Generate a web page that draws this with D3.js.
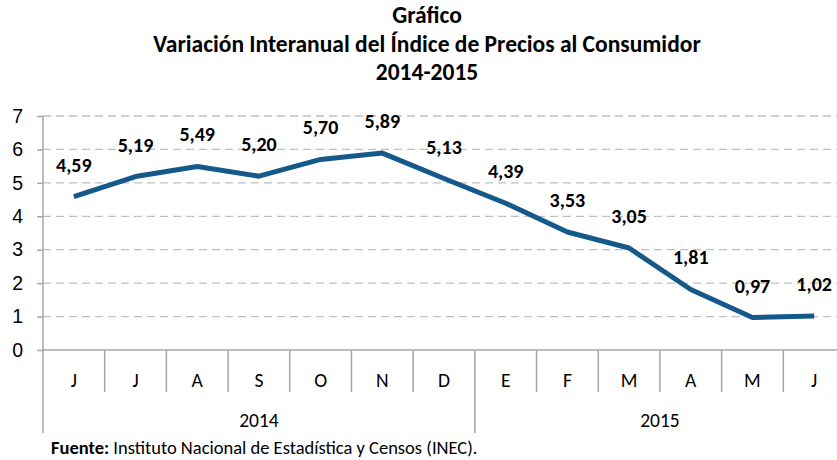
<!DOCTYPE html>
<html>
<head>
<meta charset="utf-8">
<style>
  body { margin: 0; background: #fff; }
  svg { font-family: Carlito, Lato, "Open Sans", sans-serif; }
</style>
</head>
<body>
<div id="chart"></div>
<script src="https://d3js.org/d3.v7.min.js"></script>
<script>
// chart data
const months = ["J", "J", "A", "S", "O", "N", "D", "E", "F", "M", "A", "M", "J"];
const years = ["2014", "2014", "2014", "2014", "2014", "2014", "2014", "2015", "2015", "2015", "2015", "2015", "2015"];
const values = [4.59, 5.19, 5.49, 5.20, 5.70, 5.89, 5.13, 4.39, 3.53, 3.05, 1.81, 0.97, 1.02];
const yTicks = [0, 1, 2, 3, 4, 5, 6, 7];
const titleLines = ["Gráfico", "Variación Interanual del Índice de Precios al Consumidor", "2014-2015"];

const width = 837, height = 460;
const svg = d3.select("#chart").append("svg")
    .attr("width", width)
    .attr("height", height);

const plotLeft = 43, plotRight = 845, plotTop = 116, plotBottom = 350;
const axisColor = "#a6a6a6";

const x = d3.scaleBand().domain(d3.range(months.length)).range([plotLeft, plotRight]);
const y = d3.scaleLinear().domain([0, 7]).range([plotBottom, plotTop]);

// title
svg.append("g").selectAll("text")
    .data(titleLines)
    .join("text")
    .attr("x", 427)
    .attr("y", (d, i) => 23 + i * 28.5)
    .attr("text-anchor", "middle")
    .attr("font-weight", "bold")
    .attr("font-size", 23.5)
    .text(d => d);

// gridlines
svg.append("g").selectAll("line")
    .data(yTicks.filter(d => d > 0))
    .join("line")
    .attr("x1", plotLeft).attr("x2", plotRight)
    .attr("y1", d => y(d)).attr("y2", d => y(d))
    .attr("stroke", "#bfbfbf")
    .attr("stroke-width", 1.3)
    .attr("stroke-dasharray", "8,5");

// y axis
const yAxis = svg.append("g")
    .attr("transform", `translate(${plotLeft},0)`)
    .call(d3.axisLeft(y).tickValues(yTicks).tickSize(6).tickPadding(14).tickFormat(d3.format("d")));
yAxis.select(".domain").remove();
yAxis.selectAll(".tick line").attr("stroke", axisColor).attr("stroke-width", 1.5);
yAxis.selectAll(".tick text").attr("font-size", 19.5).attr("fill", "#000").attr("font-family", "inherit");
svg.append("line")
    .attr("x1", plotLeft).attr("x2", plotLeft)
    .attr("y1", y(7)).attr("y2", 433)
    .attr("stroke", axisColor).attr("stroke-width", 1.5);

// x axis baseline
svg.append("line")
    .attr("x1", plotLeft).attr("x2", plotRight)
    .attr("y1", plotBottom).attr("y2", plotBottom)
    .attr("stroke", axisColor).attr("stroke-width", 1.5);

// category separators
svg.append("g").selectAll("line")
    .data(d3.range(1, months.length))
    .join("line")
    .attr("x1", i => x(i)).attr("x2", i => x(i))
    .attr("y1", plotBottom)
    .attr("y2", i => years[i] !== years[i - 1] ? 433 : 392)
    .attr("stroke", axisColor).attr("stroke-width", 1.5);

// month labels
svg.append("g").selectAll("text")
    .data(months)
    .join("text")
    .attr("x", (d, i) => x(i) + x.bandwidth() / 2)
    .attr("y", 387)
    .attr("text-anchor", "middle")
    .attr("font-size", 19.5)
    .text(d => d);

// year labels
const yearGroups = d3.groups(years.map((yr, i) => ({ yr, i })), d => d.yr);
svg.append("g").selectAll("text")
    .data(yearGroups)
    .join("text")
    .attr("x", d => (x(d[1][0].i) + x(d[1][d[1].length - 1].i) + x.bandwidth()) / 2)
    .attr("y", 427)
    .attr("text-anchor", "middle")
    .attr("font-size", 19.5)
    .text(d => d[0]);

// line
const line = d3.line()
    .x((d, i) => x(i) + x.bandwidth() / 2)
    .y(d => y(d));
svg.append("path")
    .datum(values)
    .attr("d", line)
    .attr("fill", "none")
    .attr("stroke", "#15588a")
    .attr("stroke-width", 5)
    .attr("stroke-linejoin", "round");

// data labels
const fmt = d => d3.format(".2f")(d).replace(".", ",");
svg.append("g").selectAll("text")
    .data(values)
    .join("text")
    .attr("x", (d, i) => x(i) + x.bandwidth() / 2)
    .attr("y", d => y(d) - 25)
    .attr("text-anchor", "middle")
    .attr("font-weight", "bold")
    .attr("font-size", 20)
    .text(d => fmt(d));

// source
const src = svg.append("text")
    .attr("x", 51)
    .attr("y", 454)
    .attr("font-size", 18.5);
src.append("tspan").attr("font-weight", "bold").text("Fuente:");
src.append("tspan").text(" Instituto Nacional de Estadística y Censos (INEC).");
</script>
</body>
</html>
